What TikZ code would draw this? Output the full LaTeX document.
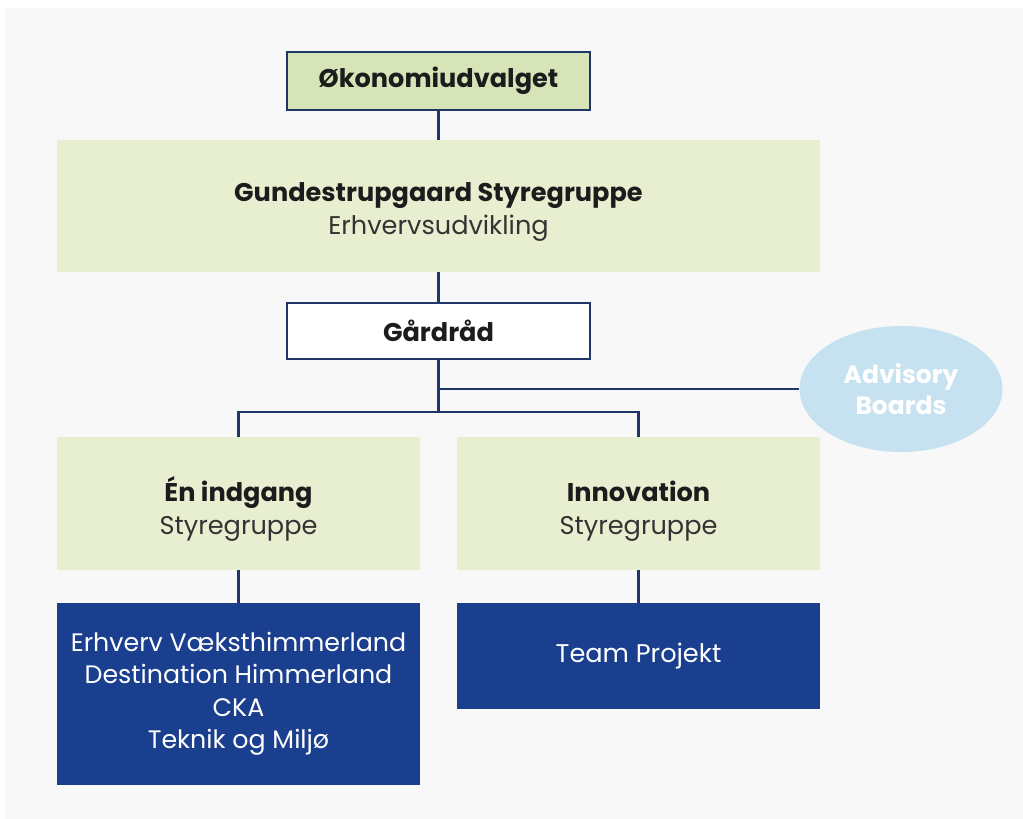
\documentclass[tikz,border=0pt]{standalone}
\usepackage{fontspec}
\setmainfont{Poppins}
\usetikzlibrary{shapes.geometric}
\definecolor{bgc}{HTML}{F8F8F8}
\definecolor{okfill}{HTML}{D6E4B8}
\definecolor{lightgreen}{HTML}{E8EFD1}
\definecolor{navy}{HTML}{1F3766}
\definecolor{darkblue}{HTML}{1B3F8F}
\definecolor{advfill}{HTML}{C6E2F0}
\definecolor{txt}{HTML}{1C1C1C}
\definecolor{subtxt}{HTML}{333333}
\begin{document}
\begin{tikzpicture}[x=1pt,y=-1pt,
  box/.style={rectangle, inner sep=0pt, align=center, text=txt},
  framed/.style={box, draw=navy, line width=2pt},
  pale/.style={box, fill=lightgreen},
  dark/.style={box, fill=darkblue, text=white},
  conn/.style={draw=navy, line width=2.2pt},
  big/.style={font=\fontsize{25.6}{33}\selectfont},
  label text/.style={inner sep=0pt, align=center, text=txt, big}
]
\useasboundingbox (0,0) rectangle (1023,819);
\fill[white] (0,0) rectangle (1023,819);
\fill[bgc] (5,8) rectangle (1023,819);

\node[framed, fill=okfill, minimum width=303pt, minimum height=58pt, big] (ok) at (438.5,81) {\textbf{Økonomiudvalget}};
\node[pale, minimum width=763pt, minimum height=132pt] (gs) at (438.5,206) {};
\node[label text] (gs-t) at (438.5,208.5) {\textbf{\vphantom{Ég}Gundestrupgaard Styregruppe}\\\color{subtxt}Erhvervsudvikling};
\node[framed, fill=white, minimum width=303pt, minimum height=56pt, big] (gr) at (438.5,331) {\textbf{Gårdråd}};
\node[ellipse, fill=advfill, minimum width=203pt, minimum height=126pt, inner sep=0pt, align=center, text=white, font=\fontsize{25}{31}\selectfont\bfseries] (adv) at (901,389) {Advisory\\Boards};
\node[pale, minimum width=363pt, minimum height=133pt] (ein) at (238.5,503.5) {};
\node[label text] (ein-t) at (238.5,509) {\textbf{\vphantom{Ég}Én indgang}\\\color{subtxt}Styregruppe};
\node[pale, minimum width=363pt, minimum height=133pt] (inn) at (638.5,503.5) {};
\node[label text] (inn-t) at (638.5,509) {\textbf{\vphantom{Ég}Innovation}\\\color{subtxt}Styregruppe};
\node[dark, minimum width=363pt, minimum height=182pt, font=\fontsize{25.3}{32.5}\selectfont] (erh) at (238.5,694) {Erhverv Væksthimmerland\\Destination Himmerland\\CKA\\Teknik og Miljø};
\node[dark, minimum width=363pt, minimum height=106pt, big] (team) at (638.5,656) {Team Projekt};

\coordinate (j1) at (438.5,389);
\coordinate (j2) at (438.5,412);
\draw[conn] (ok.south) -- (gs.north);
\draw[conn] (gs.south) -- (gr.north);
\draw[conn] (gr.south) -- (j2);
\draw[conn] (j1) -- (adv.west);
\draw[conn] (ein.north) |- (j2) -| (inn.north);
\draw[conn] (ein.south) -- (erh.north);
\draw[conn] (inn.south) -- (team.north);
\end{tikzpicture}
\end{document}
